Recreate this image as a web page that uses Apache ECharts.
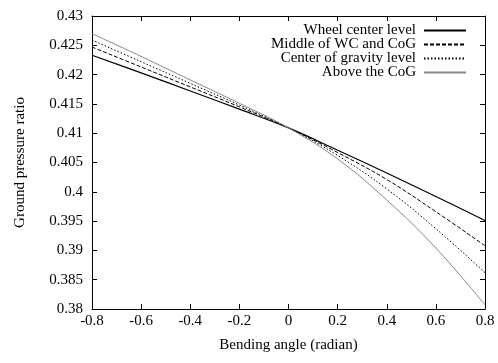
<!DOCTYPE html>
<html>
<head>
<meta charset="utf-8">
<script src="https://cdn.jsdelivr.net/npm/echarts@6/dist/echarts.min.js"></script>
<style>html,body{margin:0;padding:0;background:#fff}#c{width:498px;height:363px}</style>
</head>
<body>
<div id="c"></div>
<script>
var angles = [-0.8, -0.6, -0.4, -0.2, 0, 0.2, 0.4, 0.6, 0.8];
var seriesNames = ['Wheel center level', 'Middle of WC and CoG', 'Center of gravity level', 'Above the CoG'];
var wheelCenter = [0.4233, 0.4203, 0.4172, 0.4141, 0.4109, 0.4071, 0.4032, 0.3992, 0.3951];
var middleWcCog = [0.4247, 0.4213, 0.4179, 0.4145, 0.4109, 0.4067, 0.4021, 0.3966, 0.3908];
var cogLevel    = [0.4259, 0.4222, 0.4185, 0.4148, 0.4109, 0.4062, 0.4005, 0.3937, 0.3862];
var aboveCog    = [0.4270, 0.4231, 0.4191, 0.4151, 0.4109, 0.4056, 0.3986, 0.3904, 0.3807];

var font = 'Liberation Serif';
function pairs(vals){ return angles.map(function(a,i){ return [a, vals[i]]; }); }
var styles = [
  {color:'#000', type:'solid', width:1.2},
  {color:'#000', type:[4,2], width:1},
  {color:'#000', type:[1.5,2], width:1},
  {color:'#888', type:'solid', width:1}
];
var allVals = [wheelCenter, middleWcCog, cogLevel, aboveCog];
var series = allVals.map(function(v,i){
  return {
    name: seriesNames[i], type:'line', data: pairs(v), smooth: 0.4,
    showSymbol:false, symbol:'none', lineStyle: styles[i], itemStyle:{color: styles[i].color},
    xAxisIndex:0, yAxisIndex:0, animation:false
  };
});
var fmtX = function(v){ return String(Math.round(v*10)/10); };
var fmtY = function(v){ return String(Math.round(v*1000)/1000); };
var axisCommon = {
  axisLine:{show:true, onZero:false, lineStyle:{color:'#000', width:1}},
  axisTick:{show:true, inside:true, length:5, lineStyle:{color:'#000'}},
  splitLine:{show:false}
};
var chart = echarts.init(document.getElementById('c'), null, {renderer:'canvas'});
chart.setOption({
  animation:false,
  backgroundColor:'#fff',
  grid:{left:92, right:13, top:16, bottom:54},
  legend:{
    orient:'vertical', right:31, top:23, align:'right', padding:0,
    itemWidth:42, itemHeight:12, itemGap:-1,
    textStyle:{fontFamily:font, fontSize:15, color:'#000', lineHeight:12, padding:[0,3,0,0]},
    itemStyle:{opacity:0, borderWidth:0},
    data: seriesNames
  },
  xAxis:[
    Object.assign({type:'value', min:-0.8, max:0.8, interval:0.2, position:'bottom',
      name:'Bending angle (radian)', nameLocation:'middle', nameGap:29,
      nameTextStyle:{fontFamily:font, fontSize:15, color:'#000'},
      axisLabel:{fontFamily:font, fontSize:15, color:'#000', margin:5, formatter:fmtX}}, axisCommon),
    Object.assign({type:'value', min:-0.8, max:0.8, interval:0.2, position:'top', axisLabel:{show:false}}, axisCommon)
  ],
  yAxis:[
    Object.assign({type:'value', min:0.38, max:0.43, interval:0.005, position:'left',
      name:'Ground pressure ratio', nameLocation:'middle', nameGap:64, nameRotate:90,
      nameTextStyle:{fontFamily:font, fontSize:15, color:'#000'},
      axisLabel:{fontFamily:font, fontSize:15, color:'#000', margin:9, formatter:fmtY}}, axisCommon),
    Object.assign({type:'value', min:0.38, max:0.43, interval:0.005, position:'right', axisLabel:{show:false}}, axisCommon)
  ],
  series: series
});
</script>
</body>
</html>
